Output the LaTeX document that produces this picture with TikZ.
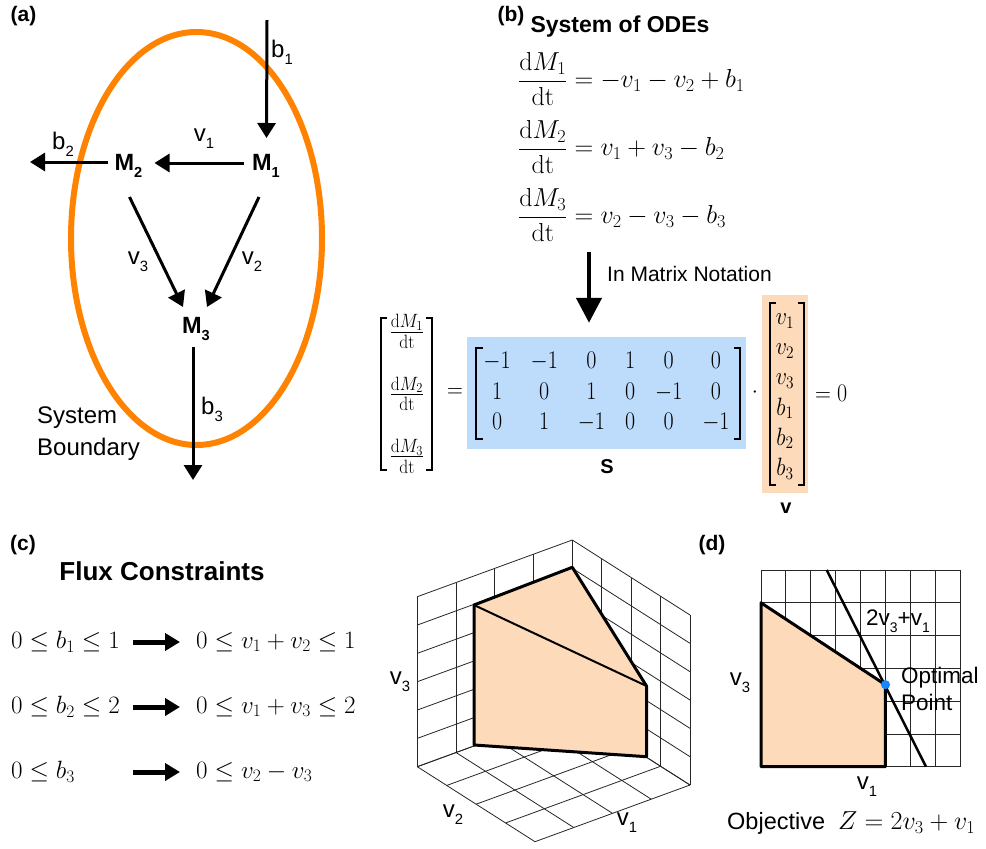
\RequirePackage{fix-cm}
\documentclass[tikz,border=0pt]{standalone}
\usepackage{amsmath}
\usepackage[no-math]{fontspec}
\setmainfont{Liberation Sans}
\usetikzlibrary{arrows.meta,calc}
\definecolor{bound}{RGB}{255,131,0}
\definecolor{sblue}{RGB}{189,220,252}
\definecolor{peach}{RGB}{252,218,186}
\definecolor{optblue}{RGB}{24,135,255}
\newcommand{\lsub}[1]{\raisebox{-0.3em}{\scalebox{0.62}{#1}}}
\tikzset{
  lbl/.style={font=\fontsize{24}{30}\selectfont, inner sep=0pt},
  lbls/.style={font=\fontsize{22.5}{27}\selectfont, inner sep=0pt},
  ttl/.style={font=\fontsize{23}{27}\selectfont\bfseries, inner sep=0pt},
  pan/.style={font=\fontsize{21}{24}\selectfont\bfseries, inner sep=0pt},
  met/.style={font=\fontsize{23.5}{26}\selectfont\bfseries, inner sep=0pt},
  eqn/.style={font=\fontsize{26}{31}\selectfont, inner sep=0pt, anchor=west},
  cmath/.style={font=\fontsize{25}{30}\selectfont, inner sep=0pt, anchor=west},
  mat/.style={font=\fontsize{22}{26.4}\selectfont, inner sep=0pt},
  brk/.style={line width=2pt, line join=miter},
  arr/.style={-{Triangle[length=15pt,width=18pt]}, line width=3pt},
  bigarr/.style={-{Triangle[length=25pt,width=25pt]}, line width=4.5pt},
  carr/.style={-{Triangle[length=15pt,width=17pt]}, line width=5pt},
  grid3/.style={line width=0.8pt, black!85},
  poly/.style={fill=peach, draw=black, line width=3pt, line join=round},
}
\begin{document}
\begin{tikzpicture}[x=1pt,y=-1pt]
\fill[white] (0,0) rectangle (986,849);
\useasboundingbox (0,0) rectangle (986,849);

% ---------------- panel (a)
\node[pan] (pa) at (23.5,16) {(a)};
\draw[bound, line width=6pt] (196.5,238.5) ellipse [x radius=125.5pt, y radius=206.5pt];
\node[met] (M1) at (266,166) {M\lsub{1}};
\node[met] (M2) at (128.5,166) {M\lsub{2}};
\node[met] (M3) at (196,329) {M\lsub{3}};
\coordinate (b1s) at (267,20);
\coordinate (b2e) at (30,162);
\coordinate (b3e) at (193,480);
\draw[arr] (b1s) -- ($(M1)+(0.5,-28)$);
\draw[arr] ($(M1)+(-22.5,-3)$) -- ($(M2)+(26,-3)$);
\draw[arr] ($(M2)+(-21,-4)$) -- (b2e);
\draw[arr] ($(M2)+(1,31)$) -- ($(M3)+(-13,-22)$);
\draw[arr] ($(M1)+(-7,31)$) -- ($(M3)+(11,-22)$);
\draw[arr] ($(M3)+(-3,18)$) -- (b3e);
\node[lbl] (lb1) at (282,52) {b\lsub{1}};
\node[lbl] (lv1) at (204,139) {v\lsub{1}};
\node[lbl] (lb2) at (63,144) {b\lsub{2}};
\node[lbl] (lv3) at (138,262) {v\lsub{3}};
\node[lbl] (lv2) at (252,262) {v\lsub{2}};
\node[lbl] (lb3) at (212,409) {b\lsub{3}};
\node[lbl, anchor=west, align=left, font=\fontsize{24}{32}\selectfont] (sb) at (37,434) {System\\Boundary};

% ---------------- panel (b)
\node[pan] (pb) at (511,16) {(b)};
\node[ttl] (ode) at (620,27) {System of ODEs};
\node[eqn] (E1) at (518,79) {$\displaystyle\frac{\mathrm{d}M_1}{\mathrm{dt}} = -v_1 - v_2 + b_1$};
\node[eqn] (E2) at (518,147) {$\displaystyle\frac{\mathrm{d}M_2}{\mathrm{dt}} = v_1 + v_3 - b_2$};
\node[eqn] (E3) at (518,215) {$\displaystyle\frac{\mathrm{d}M_3}{\mathrm{dt}} = v_2 - v_3 - b_3$};

% LHS vector
\node[mat, font=\fontsize{25}{30}\selectfont] (L) at (407,394) {\scalebox{1}[1.1]{$\begin{matrix}\frac{\mathrm{d}M_1}{\mathrm{dt}}\\[25pt]\frac{\mathrm{d}M_2}{\mathrm{dt}}\\[25pt]\frac{\mathrm{d}M_3}{\mathrm{dt}}\end{matrix}$}};
\draw[brk] ($(L)+(-19.7,-75.7)$) -- ++(-6,0) |- ($(L)+(-19.7,76)$);
\draw[brk] ($(L)+(19,-75.7)$) -- ++(6,0) |- ($(L)+(19,76)$);
\node[mat] (eqa) at (455,393) {\scalebox{1}[1.15]{$=$}};
% S matrix
\node[mat, fill=sblue, minimum width=279pt, minimum height=112pt] (S) at (606.5,393)
  {\scalebox{1}[1.155]{$\setlength\arraycolsep{10pt}\begin{matrix} -1 & -1 & 0 & 1 & 0 & 0\\ 1 & 0 & 1 & 0 & -1 & 0\\ 0 & 1 & -1 & 0 & 0 & -1\end{matrix}$}};
\draw[brk] ($(S)+(-124,-44.7)$) -- ++(-6.5,0) |- ($(S)+(-124,46.3)$);
\draw[brk] ($(S)+(127,-44.7)$) -- ++(6.5,0) |- ($(S)+(127,46.3)$);
\node[mat] (cd) at (755,393) {$\cdot$};
% v vector
\node[mat, fill=peach, minimum width=46pt, minimum height=198pt] (V) at (785,394)
  {\scalebox{1}[1.14]{$\begin{matrix} v_1\\ v_2\\ v_3\\ b_1\\ b_2\\ b_3\end{matrix}$}};
\draw[brk] ($(V)+(-9,-90.7)$) -- ++(-6,0) |- ($(V)+(-9,91)$);
\draw[brk] ($(V)+(13,-90.7)$) -- ++(6,0) |- ($(V)+(13,91)$);
\node[mat, anchor=west] (eqz) at (815,393) {\scalebox{1}[1.15]{$=0$}};
\node[font=\fontsize{20}{24}\selectfont\bfseries, inner sep=0pt] (Sl) at (607,467) {S};
\node[font=\fontsize{20}{24}\selectfont\bfseries, inner sep=0pt] (Vl) at (786,508) {v};
\coordinate (atop) at (589,252);
\draw[bigarr] (atop) -- ($(S.north)+(-17.5,-14)$);
\node[font=\fontsize{21}{25}\selectfont, inner sep=0pt, anchor=west] (imn) at (607,274) {In Matrix Notation};

% ---------------- panel (c)
\node[pan] (pc) at (23,545) {(c)};
\node[font=\fontsize{26}{30}\selectfont\bfseries, inner sep=0pt] (flux) at (162,571) {Flux Constraints};
\node[cmath] (L1) at (11,642) {$0\le b_1\le 1$};
\node[cmath] (L2) at (11,707) {$0\le b_2\le 2$};
\node[cmath] (L3) at (11,772) {$0\le b_3$};
\node[cmath] (R1) at (196,642) {$0\le v_1+v_2\le 1$};
\node[cmath] (R2) at (196,707) {$0\le v_1+v_3\le 2$};
\node[cmath] (R3) at (196,772) {$0\le v_2-v_3$};
\draw[carr] ($(R1.west)+(-63,0)$) -- ($(R1.west)+(-16,0)$);
\draw[carr] ($(R2.west)+(-63,0)$) -- ($(R2.west)+(-16,0)$);
\draw[carr] ($(R3.west)+(-63,0)$) -- ($(R3.west)+(-16,0)$);

% 3D box grid
\foreach \i in {0,...,4}{
  \draw[grid3] ({572.3-38.75*\i},{710+14.175*\i}) -- ++(0,-170);
  \draw[grid3] ({572.3+29.425*\i},{710+18.75*\i}) -- ++(0,-170);
  \draw[grid3] ({572.3-38.75*\i},{710+14.175*\i}) -- ++(117.7,75);
  \draw[grid3] ({572.3+29.425*\i},{710+18.75*\i}) -- ++(-155,56.7);
}
\foreach \k in {0,...,6}{
  \draw[grid3] (572.3,{710-28.333*\k}) -- ++(-155,56.7);
  \draw[grid3] (572.3,{710-28.333*\k}) -- ++(117.7,75);
}
\coordinate (P1) at (474,605);
\coordinate (P2) at (572.3,567.3);
\coordinate (P3) at (646.5,686);
\coordinate (P4) at (646.5,756.7);
\coordinate (P5) at (474,745);
\draw[poly] (P1) -- (P2) -- (P3) -- (P4) -- (P5) -- cycle;
\draw[line width=2pt] (P1) -- (P3);
\node[lbl] (x3) at (400,682) {v\lsub{3}};
\node[lbl] (x2) at (453,815) {v\lsub{2}};
\node[lbl] (x1) at (627,823) {v\lsub{1}};

% ---------------- panel (d)
\node[pan] (pd) at (712,545) {(d)};
\foreach \i in {0,...,8}{
  \draw[grid3] ({761+24.875*\i},570) -- ++(0,196.7);
}
\foreach \j in {0,...,6}{
  \draw[grid3] (761,{570+32.783*\j}) -- ++(199,0);
}
\node[circle, fill=optblue, inner sep=0pt, minimum size=9pt] (opt) at (885.4,684.7) {};
\draw[poly] (761,602.8) -- (opt.center) -- (885.4,766.7) -- (761,766.7) -- cycle;
\coordinate (ot) at (826.7,570);
\coordinate (ob) at (926,766.7);
\draw[line width=2.5pt] (ot) -- (ob);
\node[circle, fill=optblue, inner sep=0pt, minimum size=9pt] at (opt) {};
\node[lbls] (zl) at (898,621) {2v\lsub{3}+v\lsub{1}};
\node[lbls, anchor=west] (op1) at (901,678) {Optimal};
\node[lbls, anchor=west] (op2) at (901,702) {Point};
\node[lbl] (y3) at (740,683) {v\lsub{3}};
\node[lbl] (y1) at (867,787) {v\lsub{1}};
\node[font=\fontsize{23.5}{28}\selectfont, inner sep=0pt, anchor=west] (obj) at (727,823) {Objective\ \ {\fontsize{26}{30}\selectfont$Z=2v_3+v_1$}};
\end{tikzpicture}
\end{document}
